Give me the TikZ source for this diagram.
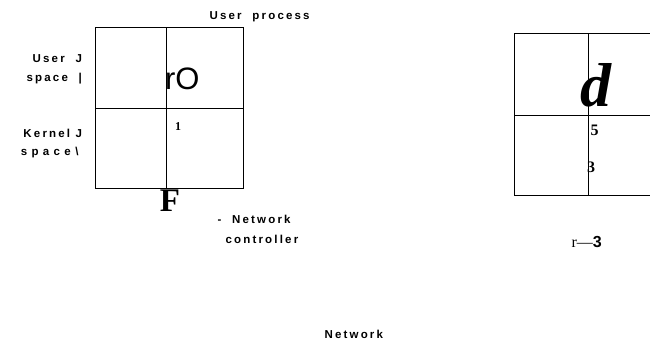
\documentclass[tikz,border=0pt]{standalone}
\usepackage{fontspec}
\setmainfont{Liberation Serif}
\setsansfont{Liberation Sans}
\newfontfamily\trackfont[LetterSpace=19]{Liberation Sans}

\begin{document}
\begin{tikzpicture}[x=1pt,y=-1pt,line width=1.1pt]
\tikzstyle{lbl}=[inner sep=0pt, font=\trackfont\bfseries\fontsize{11.5}{13}\selectfont]
\tikzstyle{glyph}=[inner sep=0pt, anchor=base west]
\useasboundingbox (0,0) rectangle (650,343);
% host on the left
\draw (95.7,27.3) rectangle (243.3,188.3);
\draw (166.3,27.3) -- (166.3,188.3);
\draw (95.7,108.3) -- (243.3,108.3);
\node[lbl,anchor=base west] (proc) at (209,19) {User\ \ process};
\node[lbl,anchor=base east] (usr1) at (82.5,62.7) {User\ \ J};
\node[lbl,anchor=base east] (usr2) at (82.5,81.7) {space\ \ |};
\node[lbl,anchor=base east] (krn1) at (82.5,137.3) {Kernel J};
\node[lbl,anchor=base east] (krn2) at (79,155) {\addfontfeature{LetterSpace=38}space\textbackslash};
\node[glyph,font=\sffamily\fontsize{31}{31}\selectfont] (ro) at (164.6,89.3) {rO};
\node[glyph,font=\bfseries\fontsize{12}{12}\selectfont] (one) at (174.6,130.7) {1};
\node[glyph,anchor=base,font=\bfseries\fontsize{33}{33}\selectfont] (eff) at (170,211.7) {F};
\node[lbl,anchor=base west] (ctl1) at (217,223.3) {-\ \ Network};
\node[lbl,anchor=base west] (ctl2) at (225,243.3) {controller};
% host on the right, cut at the edge
\draw (650,33.3) -- (514.3,33.3) -- (514.3,195.7) -- (650,195.7);
\draw (588.3,33.3) -- (588.3,195.7);
\draw (514.3,115.3) -- (650,115.3);
\node[glyph,font=\bfseries\itshape\fontsize{62}{62}\selectfont] (dee) at (580,106.7) {d};
\node[glyph,font=\bfseries\fontsize{16}{16}\selectfont] (five) at (590,135) {5};
\node[glyph,font=\bfseries\fontsize{16}{16}\selectfont] (three) at (586.5,172.7) {3};
\node[glyph] (rdash) at (571,247) {\fontsize{16}{16}\selectfont r---\sffamily\bfseries 3};
% the wire below
\node[lbl,anchor=base west] (net) at (324,338.7) {Network};
\end{tikzpicture}
\end{document}
